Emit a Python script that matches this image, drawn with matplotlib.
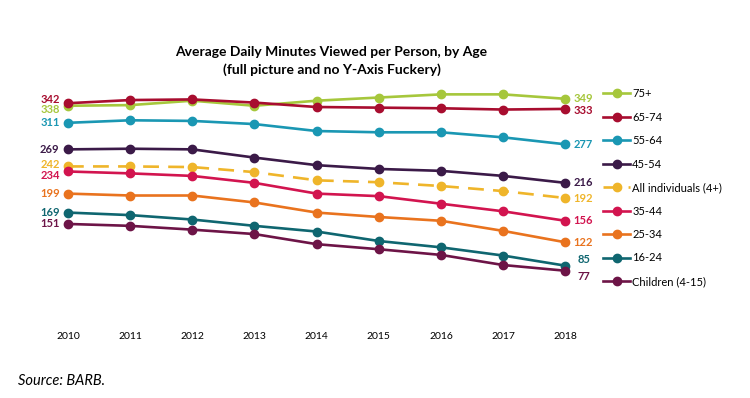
import matplotlib.pyplot as plt

plt.rcParams['font.family'] = ['Lato', 'DejaVu Sans']

years = [2010, 2011, 2012, 2013, 2014, 2015, 2016, 2017, 2018]

# minutes par jour
age_75 = [338, 339, 346, 338, 346, 351, 356, 356, 349]
age_65_74 = [342, 347, 348, 343, 336, 335, 334, 332, 333]
age_55_64 = [311, 315, 314, 309, 298, 296, 296, 288, 277]
age_45_54 = [269, 270, 269, 256, 244, 238, 235, 227, 216]
all_individuals = [242, 242, 241, 233, 220, 217, 211, 203, 192]
age_35_44 = [234, 231, 227, 216, 199, 195, 183, 171, 156]
age_25_34 = [199, 196, 196, 185, 169, 162, 156, 140, 122]
age_16_24 = [169, 165, 158, 148, 139, 124, 114, 101, 85]
children = [151, 148, 142, 135, 119, 111, 102, 86, 77]

series = [
    ('75+', age_75, '#a6c73c', '-'),
    ('65-74', age_65_74, '#a80d2f', '-'),
    ('55-64', age_55_64, '#1a97b3', '-'),
    ('45-54', age_45_54, '#3b1a48', '-'),
    ('All individuals (4+)', all_individuals, '#efb52a', (0, (6, 3.5))),
    ('35-44', age_35_44, '#d2144f', '-'),
    ('25-34', age_25_34, '#e9731e', '-'),
    ('16-24', age_16_24, '#0f6670', '-'),
    ('Children (4-15)', children, '#6d1447', '-'),
]

# décalages verticaux des étiquettes (points)
left_dy = {'75+': -3, '65-74': 2.5, 'All individuals (4+)': 1.5, '35-44': -3}
right_dy = {'75+': 0.5, '65-74': -1, '16-24': 4.5, 'Children (4-15)': -4}
right_dx = {'16-24': 3, 'Children (4-15)': 3}

fig = plt.figure(figsize=(7.5, 3.98), dpi=100)
ax = fig.add_axes([0.0657, 0.1975, 0.713, 0.6035])

for name, vals, col, ls in series:
    ax.plot(years, vals, color=col, linestyle=ls, linewidth=1.9,
            marker='o', markersize=6, label=name)
    ax.annotate(str(vals[0]), (years[0], vals[0]), xytext=(-6, left_dy.get(name, 0)),
                textcoords='offset points', ha='right', va='center',
                fontsize=8, fontweight='bold', color=col)
    ax.annotate(str(vals[-1]), (years[-1], vals[-1]),
                xytext=(6 + right_dx.get(name, 0), right_dy.get(name, 0)),
                textcoords='offset points', ha='left', va='center',
                fontsize=8, fontweight='bold', color=col)

ax.set_xlim(2009.7, 2018.3)
ax.set_ylim(0, 380)
ax.set_xticks(years)
ax.set_xticklabels([str(y) for y in years], fontsize=7.5)
ax.tick_params(axis='x', length=0, pad=9)
ax.set_yticks([])
for s in ax.spines.values():
    s.set_visible(False)

leg = ax.legend(loc='upper left', bbox_to_anchor=(0.797, 0.792),
                bbox_transform=fig.transFigure, frameon=False, fontsize=8,
                handlelength=2.4, handletextpad=0.2, labelspacing=1.12,
                borderpad=0)

fig.text(0.442, 0.847, 'Average Daily Minutes Viewed per Person, by Age\n'
         '(full picture and no Y-Axis Fuckery)', ha='center', va='center',
         fontsize=10, fontweight='bold', linespacing=1.5)

fig.text(0.024, 0.043, 'Source: BARB.', fontsize=10.5, style='italic', va='center')

fig.savefig('out.png', dpi=100)
